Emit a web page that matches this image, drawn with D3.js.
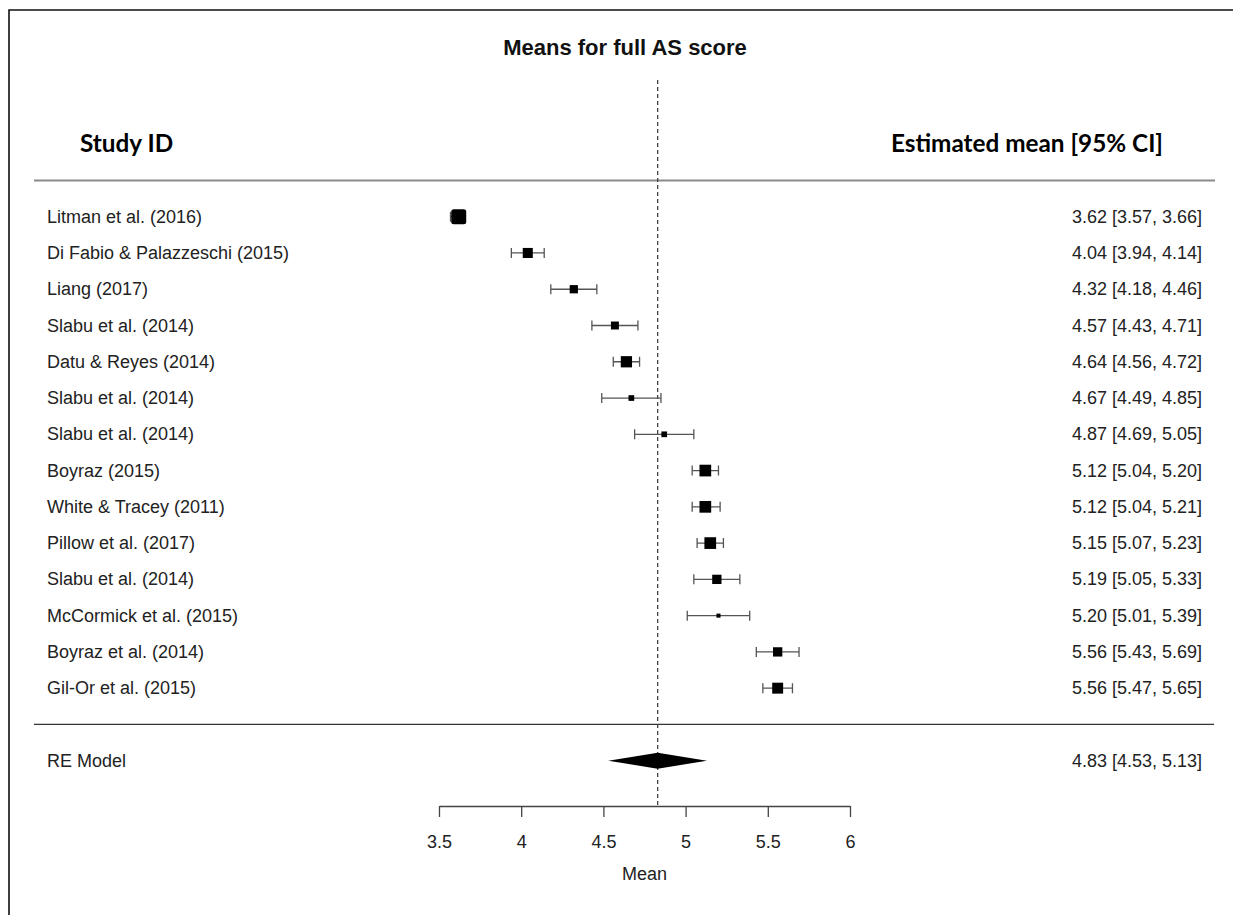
<!DOCTYPE html>
<html>
<head>
<meta charset="utf-8">
<script src="https://cdn.jsdelivr.net/npm/d3@7"></script>
<style>
  body { margin: 0; background: #fff; }
  text { font-family: "Liberation Sans", Arial, sans-serif; }
</style>
</head>
<body>
<div class="chart-container"></div>
<script>
//! DATA
const studies = [
  'Litman et al. (2016)',
  'Di Fabio & Palazzeschi (2015)',
  'Liang (2017)',
  'Slabu et al. (2014)',
  'Datu & Reyes (2014)',
  'Slabu et al. (2014)',
  'Slabu et al. (2014)',
  'Boyraz (2015)',
  'White & Tracey (2011)',
  'Pillow et al. (2017)',
  'Slabu et al. (2014)',
  'McCormick et al. (2015)',
  'Boyraz et al. (2014)',
  'Gil-Or et al. (2015)'
]
const means = [3.62, 4.04, 4.32, 4.57, 4.64, 4.67, 4.87, 5.12, 5.12, 5.15, 5.19, 5.20, 5.56, 5.56]
const lower = [3.57, 3.94, 4.18, 4.43, 4.56, 4.49, 4.69, 5.04, 5.04, 5.07, 5.05, 5.01, 5.43, 5.47]
const upper = [3.66, 4.14, 4.46, 4.71, 4.72, 4.85, 5.05, 5.20, 5.21, 5.23, 5.33, 5.39, 5.69, 5.65]
// relative box weight (largest = 1)
const weights = [1, 0.67, 0.55, 0.53, 0.75, 0.38, 0.38, 0.78, 0.78, 0.78, 0.62, 0.27, 0.62, 0.73]

const reLabel = 'RE Model'
const reMean = 4.83
const reLower = 4.53
const reUpper = 5.13

const xTicks = [3.5, 4, 4.5, 5, 5.5, 6]

//! CONSTS
const width = 1233
const height = 915
const nRows = studies.length

//! SVG
const svg =
  d3.select('.chart-container')
    .append('svg')
    .attr('width', width)
    .attr('height', height)

//! SCALES
const xScale =
  d3.scaleLinear()
    .domain([3.5, 6])
    .range([439, 850])

// row index: first study at nRows + 2, RE model at 1
const yScale =
  d3.scaleLinear()
    .domain([nRows + 2, 1])
    .range([216.7, 760.7])

const sizeScale =
  d3.scaleLinear()
    .domain([0, 1])
    .range([0, 15])

const rows = studies.map((s, i) => ({
  name: s,
  mean: means[i],
  lo: lower[i],
  hi: upper[i],
  w: weights[i],
  row: nRows + 2 - i
}))

//! FRAME
svg.append('path')
  .attr('d', `M9,${height} L9,10 L${width},10`)
  .attr('fill', 'none')
  .attr('stroke', '#111')
  .attr('stroke-width', 1.6)

//! TITLE + HEADERS
svg.append('text')
  .attr('x', 625)
  .attr('y', 55)
  .attr('text-anchor', 'middle')
  .style('font-size', '22px')
  .style('font-weight', 'bold')
  .attr('fill', '#111')
  .text('Means for full AS score')

svg.append('text')
  .attr('x', 80)
  .attr('y', 152)
  .style('font-family', 'Lato, sans-serif')
  .style('font-size', '24.3px')
  .style('font-weight', 'bold')
  .attr('fill', '#000')
  .text('Study ID')

svg.append('text')
  .attr('x', 1163)
  .attr('y', 152)
  .attr('text-anchor', 'end')
  .style('font-family', 'Lato, sans-serif')
  .style('font-size', '24.3px')
  .style('font-weight', 'bold')
  .attr('fill', '#000')
  .text('Estimated mean [95% CI]')

//! SEPARATORS
svg.append('line')
  .attr('x1', 34).attr('x2', 1215)
  .attr('y1', yScale(nRows + 3)).attr('y2', yScale(nRows + 3))
  .attr('stroke', '#8a8a8a')
  .attr('stroke-width', 2)

svg.append('line')
  .attr('x1', 34).attr('x2', 1214)
  .attr('y1', yScale(2)).attr('y2', yScale(2))
  .attr('stroke', '#333')
  .attr('stroke-width', 1.3)

//! REFERENCE LINE
svg.append('line')
  .attr('x1', xScale(reMean)).attr('x2', xScale(reMean))
  .attr('y1', 80).attr('y2', 806)
  .attr('stroke', '#444')
  .attr('stroke-width', 1.3)
  .attr('stroke-dasharray', '4,3')

//! AXIS
const xAxis =
  d3.axisBottom()
    .scale(xScale)
    .tickValues(xTicks)
    .tickFormat(d3.format(''))
    .tickSize(11)
    .tickSizeOuter(0)
    .tickPadding(18)

const mainXaxis = svg
  .append('g')
  .attr('transform', 'translate(0,806)')
  .attr('id', 'x-axis')
  .call(xAxis)

mainXaxis.selectAll('path, line')
  .attr('stroke', '#444')
  .attr('stroke-width', 1.3)
mainXaxis.selectAll('text')
  .style('font-family', '"Liberation Sans", Arial, sans-serif')
  .style('font-size', '18px')
  .attr('fill', '#222')

svg.append('text')
  .attr('x', xScale(4.75))
  .attr('y', 880)
  .attr('text-anchor', 'middle')
  .style('font-size', '18px')
  .attr('fill', '#222')
  .text('Mean')

//! ROWS
const g = svg.append('g')

g.selectAll('.study')
  .data(rows)
  .enter()
  .append('text')
  .attr('class', 'study')
  .attr('x', 47)
  .attr('y', d => yScale(d.row) + 6)
  .style('font-size', '18px')
  .attr('fill', '#222')
  .text(d => d.name)

g.selectAll('.ci-text')
  .data(rows)
  .enter()
  .append('text')
  .attr('class', 'ci-text')
  .attr('x', 1202)
  .attr('y', d => yScale(d.row) + 6)
  .attr('text-anchor', 'end')
  .style('font-size', '18px')
  .attr('fill', '#222')
  .text(d => `${d.mean.toFixed(2)} [${d.lo.toFixed(2)}, ${d.hi.toFixed(2)}]`)

// whiskers
g.selectAll('.ci')
  .data(rows)
  .enter()
  .append('path')
  .attr('class', 'ci')
  .attr('d', d => {
    const y = yScale(d.row)
    const x1 = xScale(d.lo), x2 = xScale(d.hi)
    return `M${x1},${y} L${x2},${y} M${x1},${y - 5} L${x1},${y + 5} M${x2},${y - 5} L${x2},${y + 5}`
  })
  .attr('fill', 'none')
  .attr('stroke', '#555')
  .attr('stroke-width', 1.3)

// boxes
g.selectAll('.box')
  .data(rows)
  .enter()
  .append('rect')
  .attr('class', 'box')
  .attr('x', d => xScale(d.mean) - sizeScale(d.w) / 2)
  .attr('y', d => yScale(d.row) - sizeScale(d.w) / 2)
  .attr('width', d => sizeScale(d.w))
  .attr('height', d => sizeScale(d.w))
  .attr('rx', d => d.w > 0.9 ? 2.5 : 0)
  .attr('fill', '#000')

//! RE MODEL
const yRE = yScale(1)
svg.append('text')
  .attr('x', 47)
  .attr('y', yRE + 6)
  .style('font-size', '18px')
  .attr('fill', '#222')
  .text(reLabel)

svg.append('text')
  .attr('x', 1202)
  .attr('y', yRE + 6)
  .attr('text-anchor', 'end')
  .style('font-size', '18px')
  .attr('fill', '#222')
  .text(`${reMean.toFixed(2)} [${reLower.toFixed(2)}, ${reUpper.toFixed(2)}]`)

svg.append('path')
  .attr('d', `M${xScale(reLower)},${yRE} L${xScale(reMean)},${yRE - 8} L${xScale(reUpper)},${yRE} L${xScale(reMean)},${yRE + 8} Z`)
  .attr('fill', '#000')
</script>
</body>
</html>
